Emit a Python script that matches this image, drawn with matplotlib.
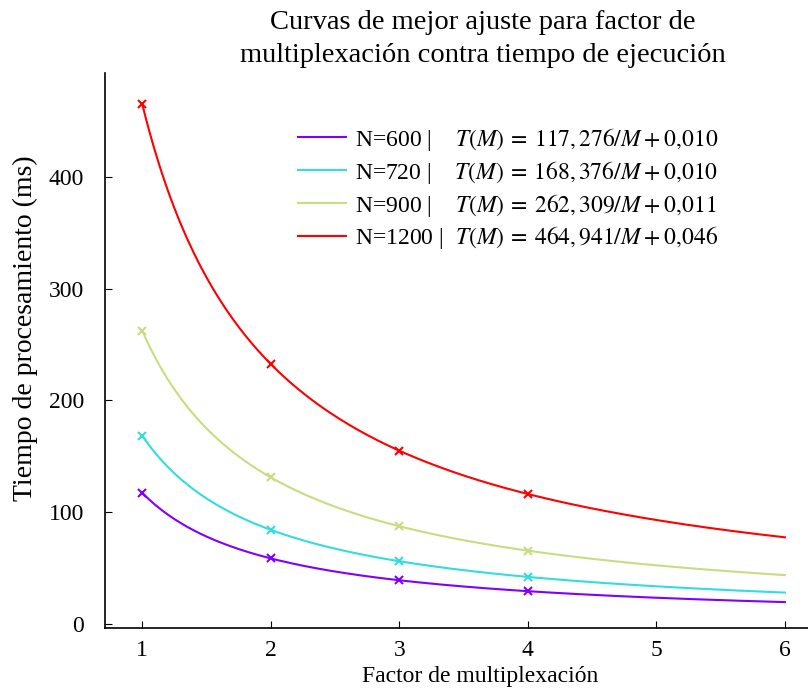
import numpy as np
import matplotlib
matplotlib.use("Agg")
import matplotlib.pyplot as plt

plt.rcParams['font.family'] = ['Liberation Serif', 'DejaVu Serif']
plt.rcParams['mathtext.fontset'] = 'stix'

labels = ["N=600", "N=720", "N=900", "N=1200"]
coef_a = [117.276, 168.376, 262.309, 464.941]
coef_b = [0.010, 0.010, 0.011, 0.046]
coef_a_txt = ["117,276", "168,376", "262,309", "464,941"]
coef_b_txt = ["0,010", "0,010", "0,011", "0,046"]
colors = ["#8000ff", "#33dddd", "#c8dc82", "#ff0000"]
m_points = [1, 2, 3, 4]
t_points = [
    [117.3, 58.6, 39.1, 29.3],
    [168.4, 84.2, 56.1, 42.1],
    [262.3, 131.2, 87.4, 65.6],
    [464.9, 232.5, 155.0, 116.2],
]

fig = plt.figure(figsize=(8.08, 6.92), dpi=100)
ax = fig.add_axes([0.13, 0.0925, 0.87, 0.802])

M = np.linspace(1, 6, 200)
for lab, a, b, at, bt, c, tp in zip(labels, coef_a, coef_b, coef_a_txt, coef_b_txt, colors, t_points):
    pad = "  " if len(lab) < 6 else ""
    at_m = at.replace(",", "{,}\\,")
    bt_m = bt.replace(",", "{,}")
    ax.plot(M, a / M + b, color=c, lw=1.5,
            label=f"{lab} |{pad}  $T(M)\\:=\\:{at_m}/M\\:+\\:{bt_m}$")
    ax.plot(m_points, tp, 'x', color=c, ms=6, mew=1.5)

ax.set_xlim(0.71, 6.18)
ax.set_ylim(-3.6, 493)
ax.set_xticks([1, 2, 3, 4, 5, 6])
ax.set_yticks([0, 100, 200, 300, 400])
ax.tick_params(direction='in', labelsize=17, length=5)
ax.tick_params(axis='y', pad=15)
ax.tick_params(axis='x', pad=9)
for s in ['top', 'right']:
    ax.spines[s].set_visible(False)
ax.spines['left'].set_linewidth(1.2)
ax.spines['bottom'].set_linewidth(1.2)

ax.set_xlabel("Factor de multiplexación", fontsize=17)
ax.set_ylabel("Tiempo de procesamiento (ms)", fontsize=20)
ax.xaxis.set_label_coords(0.533, -0.068)
ax.yaxis.set_label_coords(-0.095, 0.54)
fig.suptitle("Curvas de mejor ajuste para factor de\nmultiplexación contra tiempo de ejecución",
             fontsize=20.5, x=0.598, y=0.985, linespacing=1.4)

leg = ax.legend(loc='upper left', bbox_to_anchor=(0.342, 0.849), bbox_transform=fig.transFigure,
                frameon=False, fontsize=17, handlelength=2.07, labelspacing=0.25, handletextpad=0.35)

fig.savefig("out.png", dpi=100)
